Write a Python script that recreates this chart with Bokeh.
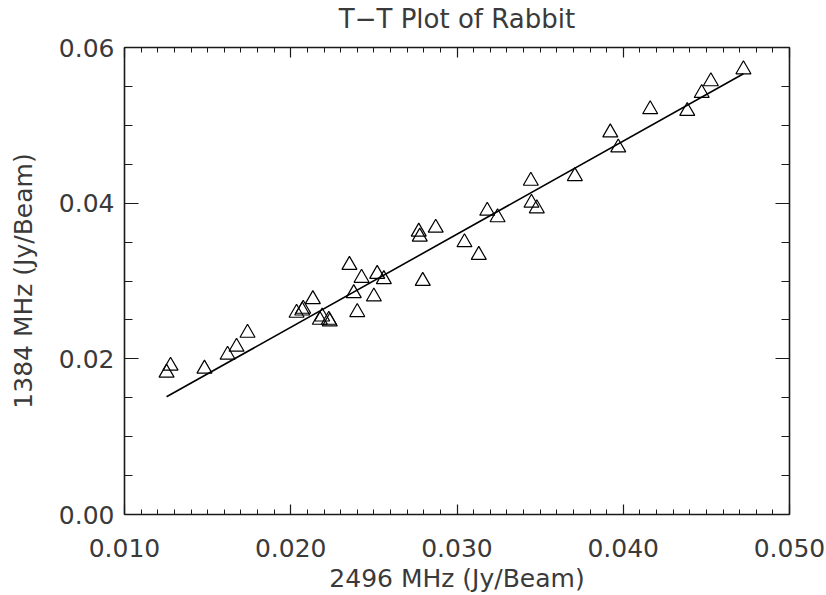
import numpy as np
from bokeh.plotting import figure
from bokeh.models import FixedTicker, LinearAxis, Range1d
from bokeh.embed import file_html
from bokeh.resources import INLINE

# Brightness temperatures at the two frequencies (Jy/Beam)
flux_2496 = [0.01253, 0.01277, 0.01481, 0.01620, 0.01674, 0.01740, 0.02035, 0.02075,
             0.02069, 0.02133, 0.02189, 0.02175, 0.02229, 0.02235, 0.02353, 0.02379,
             0.02400, 0.02426, 0.02500, 0.02520, 0.02560, 0.02770, 0.02776, 0.02794,
             0.02872, 0.03045, 0.03131, 0.03182, 0.03244, 0.03444, 0.03448, 0.03480,
             0.03709, 0.03922, 0.03970, 0.04162, 0.04385, 0.04472, 0.04527, 0.04723]
flux_1384 = [0.01821, 0.01910, 0.01872, 0.02051, 0.02154, 0.02333, 0.02590, 0.02641,
             0.02619, 0.02765, 0.02542, 0.02500, 0.02500, 0.02478, 0.03205, 0.02842,
             0.02599, 0.03039, 0.02799, 0.03090, 0.03022, 0.03632, 0.03568, 0.03000,
             0.03683, 0.03496, 0.03333, 0.03901, 0.03817, 0.04286, 0.04004, 0.03932,
             0.04346, 0.04907, 0.04714, 0.05205, 0.05183, 0.05414, 0.05564, 0.05718]

# Linear T-T fit: S1384 = fit_intercept + fit_slope * S2496
fit_slope = 1.196
fit_intercept = 0.000134

x_ticks = [0.010, 0.020, 0.030, 0.040, 0.050]
x_tick_labels = ["0.010", "0.020", "0.030", "0.040", "0.050"]
y_ticks = [0.00, 0.02, 0.04, 0.06]
y_tick_labels = ["0.00", "0.02", "0.04", "0.06"]

FONT = "DejaVu Sans"
INK = "#1a1a1a"
TEXT_INK = "#3a3a3a"

p = figure(width=826, height=595, output_backend="svg", toolbar_location=None,
           x_range=Range1d(0.010, 0.050), y_range=Range1d(0.0, 0.06),
           min_border_left=124, min_border_right=37, min_border_top=47,
           min_border_bottom=80, background_fill_color="white",
           border_fill_color="white", outline_line_color=None)
p.grid.visible = False

x_minor = [float(v) for v in np.round(np.arange(0.010, 0.0501, 0.001), 4)]
y_minor = [float(v) for v in np.round(np.arange(0.0, 0.0601, 0.005), 4)]


def style_axis(ax, ticks, minor, labels, major_len, minor_len, show_labels):
    ax.ticker = FixedTicker(ticks=ticks, minor_ticks=minor)
    ax.major_label_overrides = {t: l for t, l in zip(ticks, labels)}
    ax.axis_line_color = INK
    ax.axis_line_width = 1.6
    ax.major_tick_line_color = INK
    ax.minor_tick_line_color = INK
    ax.major_tick_line_width = 1.2
    ax.minor_tick_line_width = 1.0
    ax.major_tick_in = major_len
    ax.major_tick_out = 0
    ax.minor_tick_in = minor_len
    ax.minor_tick_out = 0
    ax.major_label_text_font = FONT
    ax.major_label_text_color = TEXT_INK
    ax.axis_label_text_font = FONT
    ax.axis_label_text_font_style = "normal"
    ax.axis_label_text_color = TEXT_INK
    ax.axis_label_text_font_size = "25px"
    if show_labels:
        ax.major_label_text_font_size = "25px"
    else:
        ax.major_label_text_font_size = "0px"
        ax.major_label_text_color = None


xa = p.xaxis[0]
ya = p.yaxis[0]
style_axis(xa, x_ticks, x_minor, x_tick_labels, 10, 5, True)
style_axis(ya, y_ticks, y_minor, y_tick_labels, 14, 8, True)
xa.axis_label = "2496 MHz (Jy/Beam)"
ya.axis_label = "1384 MHz (Jy/Beam)"
xa.major_label_standoff = 24
xa.axis_label_standoff = 4
ya.major_label_standoff = 10
ya.axis_label_standoff = 18

top_axis = LinearAxis()
right_axis = LinearAxis()
style_axis(top_axis, x_ticks, x_minor, x_tick_labels, 10, 5, False)
style_axis(right_axis, y_ticks, y_minor, y_tick_labels, 14, 8, False)
# Plot title carried by the unlabelled top axis
top_axis.axis_label = "T\u2212T Plot of Rabbit"
top_axis.axis_label_text_font_size = "26px"
top_axis.axis_label_standoff = 14
p.add_layout(top_axis, "above")
p.add_layout(right_axis, "right")

# Fitted line over the span of the data
fx = np.array([min(flux_2496), max(flux_2496)])
p.line(fx, fit_intercept + fit_slope * fx, line_color="black", line_width=1.6)

p.scatter(flux_2496, flux_1384, marker="triangle", size=15,
          fill_color=None, line_color="black", line_width=1.2)

open("out.html", "w").write(file_html(p, INLINE))
